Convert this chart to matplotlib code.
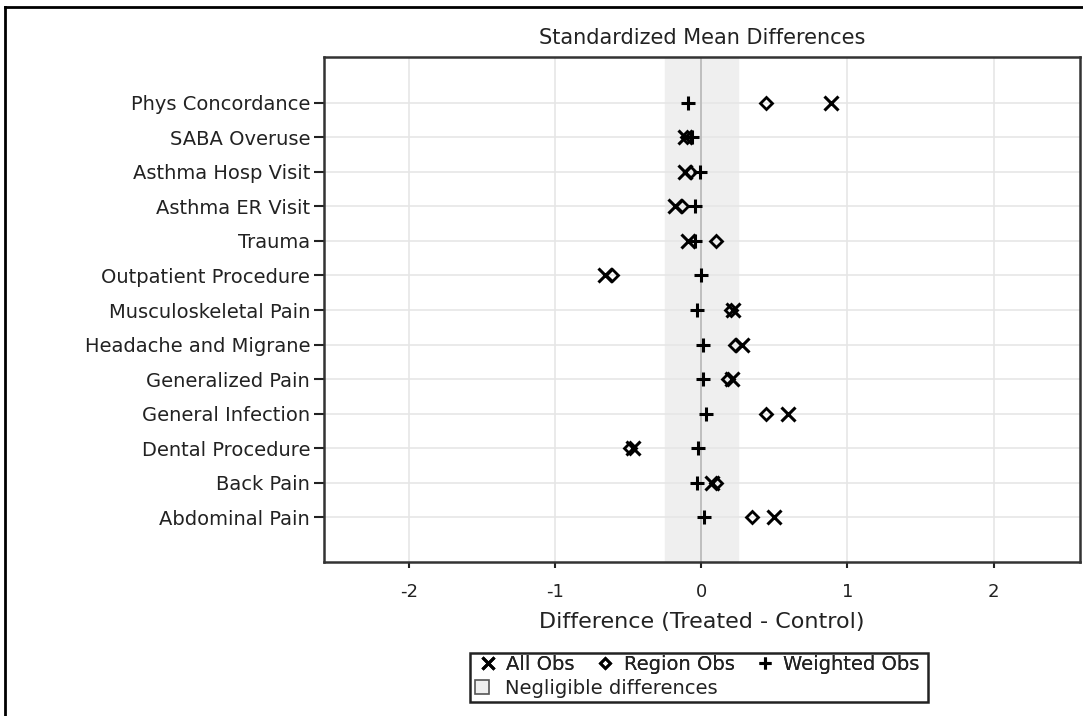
import matplotlib
matplotlib.use("Agg")
import matplotlib.pyplot as plt
from matplotlib.lines import Line2D
from matplotlib.patches import Patch, Rectangle

categories = ["Phys Concordance", "SABA Overuse", "Asthma Hosp Visit", "Asthma ER Visit",
              "Trauma", "Outpatient Procedure", "Musculoskeletal Pain", "Headache and Migrane",
              "Generalized Pain", "General Infection", "Dental Procedure", "Back Pain",
              "Abdominal Pain"]
all_obs = [0.89, -0.11, -0.11, -0.18, -0.09, -0.66, 0.22, 0.28, 0.21, 0.59, -0.47, 0.07, 0.50]
region_obs = [0.44, -0.10, -0.08, -0.13, 0.10, -0.61, 0.20, 0.23, 0.18, 0.44, -0.49, 0.10, 0.35]
weighted_obs = [-0.09, -0.06, -0.01, -0.04, -0.04, 0.00, -0.03, 0.01, 0.01, 0.03, -0.02, -0.03, 0.02]
xticks = [-2, -1, 0, 1, 2]
threshold = 0.25

plt.rcParams['font.family'] = ['DejaVu Sans']
TXT = '#222222'

W, H = 1083, 716
fig = plt.figure(figsize=(W/100, H/100), dpi=100)
ax = fig.add_axes([324/W, 1-562/H, (1080-324)/W, (562-57)/H])

n = len(categories)
ypos = [n - i for i in range(n)]

ax.axvspan(-threshold, threshold, color='#efefef', zorder=0)
ax.axvline(0, color='#b8b8b8', lw=1.2, zorder=1)
for t in xticks:
    ax.axvline(t, color='#e6e6e6', lw=1.2, zorder=0.5)
for y in ypos:
    ax.axhline(y, color='#e6e6e6', lw=1.2, zorder=0.5)

ax.plot(all_obs, ypos, linestyle='none', marker='x', ms=9.5, mew=2.2, color='black', zorder=3)
ax.plot(region_obs, ypos, linestyle='none', marker='D', ms=6.2, mew=2, mfc='none', mec='black', zorder=3)
ax.plot(weighted_obs, ypos, linestyle='none', marker='+', ms=10, mew=2.2, color='black', zorder=3)

ax.set_xlim(-2.58, 2.59)
ax.set_ylim(-0.30, 14.33)
ax.set_xticks(xticks)
ax.set_xticklabels([str(t) for t in xticks], fontsize=13, color=TXT)
ax.set_yticks(ypos)
ax.set_yticklabels(categories, fontsize=14, color=TXT)
ax.tick_params(axis='y', length=7, width=1.5, color='#222222', pad=3)
ax.tick_params(axis='x', length=4, width=1.5, color='#222222', pad=11)
for s in ax.spines.values():
    s.set_linewidth(1.8)
    s.set_color('#333333')

ax.set_title("Standardized Mean Differences", fontsize=15, pad=9, color=TXT)
ax.set_xlabel("Difference (Treated - Control)", fontsize=16, labelpad=8, color=TXT)

h_all = Line2D([], [], linestyle='none', marker='x', ms=8.5, mew=2.2, color='black')
h_reg = Line2D([], [], linestyle='none', marker='D', ms=5.5, mew=2, mfc='none', mec='black')
h_wgt = Line2D([], [], linestyle='none', marker='+', ms=9, mew=2.2, color='black')
h_neg = Patch(facecolor='#efefef', edgecolor='#555555', lw=1.2)

leg1 = fig.legend([h_all, h_reg, h_wgt], ["All Obs", "Region Obs", "Weighted Obs"], ncol=3,
                  loc='upper left', bbox_to_anchor=(478/W, 1-655/H), fontsize=14,
                  frameon=False, handlelength=1.0, handletextpad=0.46, columnspacing=1.05,
                  borderpad=0, borderaxespad=0)
leg2 = fig.legend([h_neg], ["Negligible differences"], loc='upper left',
                  bbox_to_anchor=(475/W, 1-679/H), fontsize=14, frameon=False,
                  handlelength=0.7, handletextpad=0.82, borderpad=0, borderaxespad=0)
fig.add_artist(leg1)
for lg in (leg1, leg2):
    for t in lg.get_texts():
        t.set_color(TXT)

fig.canvas.draw()
bb = leg1.get_window_extent(fig.canvas.get_renderer())
right = bb.x1 + 8
fig.add_artist(Rectangle((470/W, 1-702/H), (right-470)/W, 49/H, transform=fig.transFigure,
                         fill=False, edgecolor='#222222', lw=1.8))

fig.add_artist(Line2D([5/W, 5/W], [0, 1-7/H], transform=fig.transFigure, color='black', lw=2))
fig.add_artist(Line2D([5/W, 1], [1-7/H, 1-7/H], transform=fig.transFigure, color='black', lw=2))

fig.savefig("out.png", dpi=100)
